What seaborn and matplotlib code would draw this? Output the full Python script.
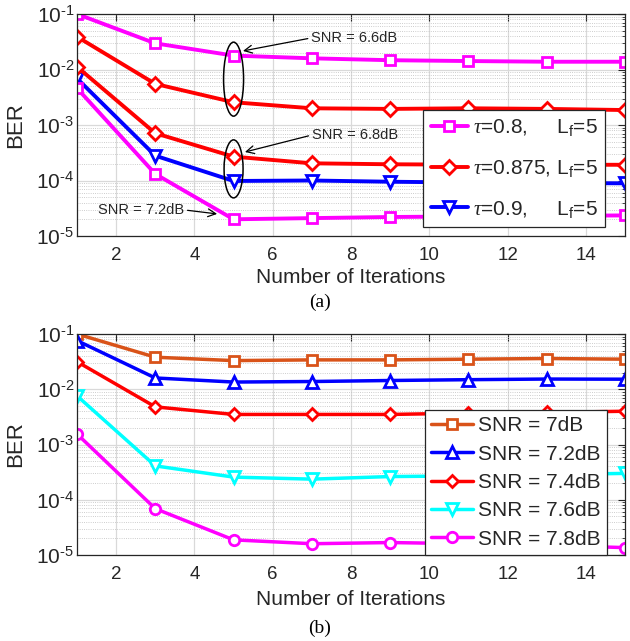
import numpy as np
import pandas as pd
import matplotlib
matplotlib.use("Agg")
import matplotlib.pyplot as plt
import seaborn as sns
from matplotlib.patches import Ellipse
from matplotlib.transforms import ScaledTranslation
from matplotlib.ticker import LogLocator, NullFormatter, FuncFormatter

# ---------------- data ----------------
iterations = [1, 3, 5, 7, 9, 11, 13, 15]

# panel (a)
a_tau08_snr66 = [0.100, 0.0296, 0.0178, 0.0159, 0.0147, 0.0142, 0.0138, 0.0138]
a_tau0875_snr66 = [0.039, 0.0055, 0.00257, 0.0020, 0.00195, 0.0020, 0.00195, 0.00186]
a_tau0875_snr68 = [0.0112, 7.1e-4, 2.69e-4, 2.04e-4, 1.96e-4, 1.93e-4, 1.92e-4, 1.92e-4]
a_tau09_snr68 = [0.0069, 2.8e-4, 9.8e-5, 1.0e-4, 9.5e-5, 9.2e-5, 9.0e-5, 8.9e-5]
a_tau08_snr72 = [0.0046, 1.31e-4, 2.0e-5, 2.1e-5, 2.2e-5, 2.25e-5, 2.3e-5, 2.35e-5]

a_labels = [r"$\tau$=0.8,     L$_\mathrm{f}$=5",
            r"$\tau$=0.875, L$_\mathrm{f}$=5",
            r"$\tau$=0.9,     L$_\mathrm{f}$=5"]

# panel (b)
b_snr70 = [0.100, 0.038, 0.033, 0.034, 0.034, 0.035, 0.036, 0.035]
b_snr72 = [0.076, 0.016, 0.0135, 0.0138, 0.0144, 0.0149, 0.0153, 0.0152]
b_snr74 = [0.0316, 0.0048, 0.0035, 0.0035, 0.0035, 0.0037, 0.0038, 0.0040]
b_snr76 = [0.0076, 4.1e-4, 2.57e-4, 2.36e-4, 2.63e-4, 2.7e-4, 2.85e-4, 3.0e-4]
b_snr78 = [0.00155, 6.9e-5, 1.88e-5, 1.6e-5, 1.68e-5, 1.6e-5, 1.5e-5, 1.36e-5]
b_labels = ["SNR = 7dB", "SNR = 7.2dB", "SNR = 7.4dB", "SNR = 7.6dB", "SNR = 7.8dB"]

ann_texts = ["SNR = 6.6dB", "SNR = 6.8dB", "SNR = 7.2dB"]
captions = ["(a)", "(b)"]

# ---------------- style ----------------
sns.set_theme(style="white")
plt.rcParams["font.family"] = ["Liberation Sans", "DejaVu Sans"]
plt.rcParams["mathtext.fontset"] = "custom"
plt.rcParams["mathtext.rm"] = "Liberation Sans"
plt.rcParams["mathtext.it"] = "Liberation Serif:italic"
plt.rcParams["mathtext.bf"] = "Liberation Sans:bold"

fig = plt.figure(figsize=(6.30, 6.41), dpi=100)
W, H = 630, 641
def axrect(x0, y0, x1, y1):
    return [x0 / W, 1 - y1 / H, (x1 - x0) / W, (y1 - y0) / H]

axA = fig.add_axes(axrect(77, 14, 625, 236))
axB = fig.add_axes(axrect(77, 334, 625, 555))


def draw(ax, yvals, color, marker, ms, label, lw=2.8, mew=2.0):
    df = pd.DataFrame({"Iterations": iterations, "BER": yvals})
    sns.lineplot(data=df, x="Iterations", y="BER", ax=ax, color=color,
                 marker=marker, markersize=ms, markerfacecolor="white",
                 markeredgecolor=color, markeredgewidth=mew, linewidth=lw,
                 label=label, estimator=None, sort=False)


MAG, RED, BLUE = "#FF00FF", "#FF0000", "#0000FF"
ORANGE, CYAN = "#D95319", "#00FFFF"

draw(axA, a_tau08_snr66, MAG, "s", 6.5, a_labels[0])
draw(axA, a_tau0875_snr66, RED, "D", 7, a_labels[1])
draw(axA, a_tau09_snr68, BLUE, "v", 8.5, a_labels[2])
draw(axA, a_tau0875_snr68, RED, "D", 7, "_nolegend_")
draw(axA, a_tau08_snr72, MAG, "s", 6.5, "_nolegend_")

draw(axB, b_snr70, ORANGE, "s", 6.5, b_labels[0], lw=2.5)
draw(axB, b_snr72, BLUE, "^", 8.5, b_labels[1], lw=2.5)
draw(axB, b_snr74, RED, "D", 6.5, b_labels[2], lw=2.5)
draw(axB, b_snr76, CYAN, "v", 8.5, b_labels[3], lw=2.5)
draw(axB, b_snr78, MAG, "o", 7.5, b_labels[4], lw=2.5)


def pow_fmt(v, pos):
    e = int(round(np.log10(v)))
    return r"10$^{\text{" + ("-" if e < 0 else "") + str(abs(e)) + "}}$"


for ax in (axA, axB):
    ax.set_yscale("log")
    ax.set_xlim(1, 15)
    ax.set_ylim(1e-5, 1e-1)
    ax.set_xticks([2, 4, 6, 8, 10, 12, 14])
    ax.yaxis.set_major_locator(LogLocator(base=10, numticks=10))
    ax.yaxis.set_major_formatter(FuncFormatter(pow_fmt))
    ax.yaxis.set_minor_locator(LogLocator(base=10, subs=np.arange(2, 10), numticks=20))
    ax.yaxis.set_minor_formatter(NullFormatter())
    ax.grid(True, which="major", color="#d9d9d9", linewidth=0.9, linestyle="-")
    ax.grid(True, which="minor", axis="y", color="#bdbdbd", linewidth=0.6, linestyle=":")
    ax.set_axisbelow(True)
    ax.tick_params(which="both", direction="in", top=True, right=True,
                   colors="#262626", labelcolor="#262626")
    ax.tick_params(axis="x", which="major", labelsize=13.5, pad=8)
    ax.tick_params(axis="y", which="major", labelsize=15, pad=2)
    ax.tick_params(which="major", length=5, width=0.8)
    ax.tick_params(which="minor", length=2.5, width=0.6)
    for s in ax.spines.values():
        s.set_color("#262626")
        s.set_linewidth(0.9)
    ax.set_ylabel("BER", fontsize=16, color="#262626", labelpad=0)
    ax.set_xlabel("Number of Iterations", fontsize=15, color="#262626")

axA.xaxis.set_label_coords(0.5, -0.145)
axB.xaxis.set_label_coords(0.5, -0.16)
axA.yaxis.set_label_coords(-0.092, 0.5)
axB.yaxis.set_label_coords(-0.092, 0.5)

legA = axA.legend(loc="upper left", bbox_to_anchor=(0.632, 0.568), borderaxespad=0,
                  fontsize=15, handlelength=1.8, handletextpad=0.25,
                  labelspacing=0.95, borderpad=0.35, frameon=True, fancybox=False)
legB = axB.legend(loc="lower right", bbox_to_anchor=(0.967, 0.0), borderaxespad=0,
                  fontsize=15, handlelength=2.0, handletextpad=0.25,
                  labelspacing=0.45, borderpad=0.3, frameon=True, fancybox=False)
for leg in (legA, legB):
    leg.get_frame().set_edgecolor("#262626")
    leg.get_frame().set_linewidth(0.9)
    leg.get_frame().set_alpha(1)
    leg.set_zorder(10)

# ellipses (size in inches, centred on data points)
for (xc, yc, w, h) in [(5, 6.7e-3, 0.20, 0.74), (5, 1.62e-4, 0.19, 0.58)]:
    e = Ellipse((0, 0), w, h, transform=fig.dpi_scale_trans + ScaledTranslation(xc, yc, axA.transData),
                fill=False, edgecolor="black", linewidth=1.1, zorder=5)
    axA.add_artist(e)

arrow = dict(arrowstyle="->", color="black", lw=0.9, shrinkA=0, shrinkB=0,
             mutation_scale=14)
axA.annotate(ann_texts[0], xy=(5.24, 0.0216), xytext=(6.98, 0.037),
             fontsize=10.5, ha="left", va="center",
             arrowprops=dict(arrow, relpos=(0, 0.5)))
axA.annotate(ann_texts[1], xy=(5.29, 3.26e-4), xytext=(7.0, 6.6e-4),
             fontsize=10.5, ha="left", va="center",
             arrowprops=dict(arrow, relpos=(0, 0.5)))
axA.annotate(ann_texts[2], xy=(4.58, 2.5e-5), xytext=(1.54, 2.95e-5),
             fontsize=10.5, ha="left", va="center",
             arrowprops=dict(arrow, relpos=(1, 0.5)))

fig.text(0.508, 1 - 302 / H, captions[0], ha="center", va="center",
         fontsize=14, family=["Liberation Serif"], color="black")
fig.text(0.508, 1 - 628 / H, captions[1], ha="center", va="center",
         fontsize=14, family=["Liberation Serif"], color="black")

fig.savefig("out.png", dpi=100)
